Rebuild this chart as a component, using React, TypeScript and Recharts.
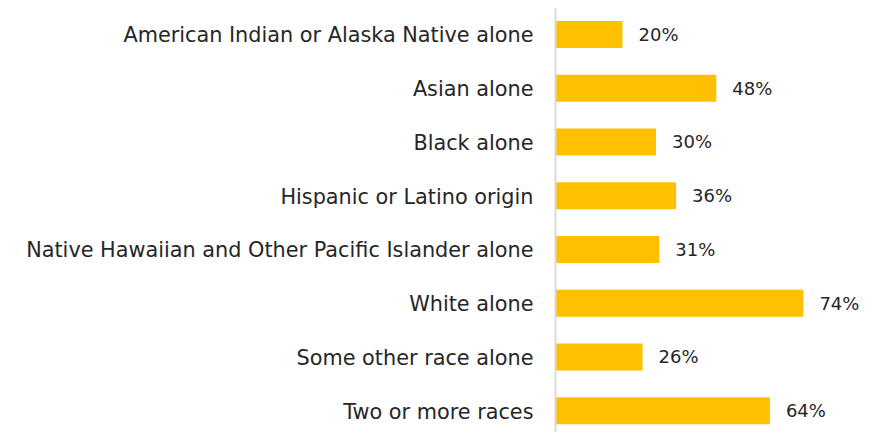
import React from "react";
import { BarChart, Bar, XAxis, YAxis, LabelList } from "recharts";

const categories = [
  "American Indian or Alaska Native alone",
  "Asian alone",
  "Black alone",
  "Hispanic or Latino origin",
  "Native Hawaiian and Other Pacific Islander alone",
  "White alone",
  "Some other race alone",
  "Two or more races",
];
const values = [20, 48, 30, 36, 31, 74, 26, 64];

const data = categories.map((name, i) => ({ name, value: values[i] }));

const FONT = "'DejaVu Sans', sans-serif";

export default function App() {
  return (
    <BarChart
      width={860}
      height={430}
      data={data}
      layout="vertical"
      margin={{ top: 0, right: 11, bottom: 0, left: 0 }}
      style={{ fontFamily: FONT }}
    >
      <XAxis type="number" domain={[0, 90]} hide />
      <YAxis
        type="category"
        dataKey="name"
        width={547.5}
        tickLine={false}
        tickSize={6}
        tickMargin={16}
        axisLine={{ stroke: "#D9D9D9", strokeWidth: 2 }}
        tick={{ fill: "#262626", fontSize: 20.8, fontFamily: FONT }}
        interval={0}
      />
      <Bar dataKey="value" fill="#FFC000" barSize={27} isAnimationActive={false}>
        <LabelList
          dataKey="value"
          position="right"
          offset={16}
          formatter={(v: number) => `${v}%`}
          style={{ fill: "#262626", fontSize: 18, fontFamily: FONT }}
        />
      </Bar>
    </BarChart>
  );
}
